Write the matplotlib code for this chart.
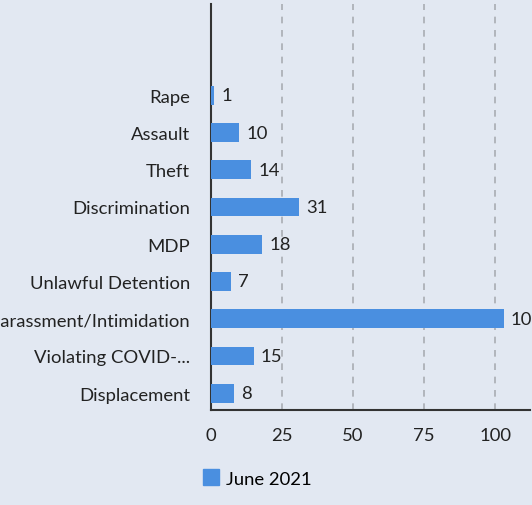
import matplotlib
matplotlib.use("Agg")
import matplotlib.pyplot as plt
from matplotlib.patches import Patch

categories = ["Displacement", "Violating COVID-...", "Harassment/Intimidation",
              "Unlawful Detention", "MDP", "Discrimination", "Theft", "Assault", "Rape"]
values = [8, 15, 103, 7, 18, 31, 14, 10, 1]
xticks = [0, 25, 50, 75, 100]
series_name = "June 2021"

plt.rcParams['font.family'] = ['Lato', 'DejaVu Sans']
bg = "#e2e8f2"
bar_color = "#4a8fe0"
fs = 13.3

fig = plt.figure(figsize=(5.32, 5.06), dpi=100, facecolor=bg)
W, H = 532, 506
ax = fig.add_axes([211 / W, 1 - 411 / H, (530 - 211) / W, (411 - 5) / H])
ax.set_facecolor(bg)

ypos = list(range(len(categories)))
ax.barh(ypos, values, height=0.5, color=bar_color, zorder=3)
for y, v in zip(ypos, values):
    ax.text(v + 2.6, y, str(v), va="center", ha="left", fontsize=fs, color="#222222", zorder=4)

ax.set_xlim(0, 112.3)
ax.set_ylim(-0.45, 10.45)
ax.set_yticks(ypos)
ax.set_yticklabels(categories, fontsize=fs, color="#222222")
ax.set_xticks(xticks)
ax.set_xticklabels([str(t) for t in xticks], fontsize=fs, color="#222222")
ax.tick_params(axis="y", length=0, pad=15)
ax.tick_params(axis="x", length=0, pad=12.5)

for t in xticks[1:]:
    ax.axvline(t, color="#a9adb3", linestyle=(0, (4, 4)), linewidth=1.2, zorder=1)

for s in ["top", "right"]:
    ax.spines[s].set_visible(False)
for s in ["left", "bottom"]:
    ax.spines[s].set_color("#333333")
    ax.spines[s].set_linewidth(1.5)

handle = Patch(facecolor=bar_color, edgecolor=bar_color, label=series_name)
fig.legend(handles=[handle], loc="center left", bbox_to_anchor=(186 / W, 1 - 479 / H),
           frameon=False, fontsize=fs, handlelength=0.9, handleheight=0.9, handletextpad=0.35)

fig.savefig("out.png", dpi=100, facecolor=bg)
